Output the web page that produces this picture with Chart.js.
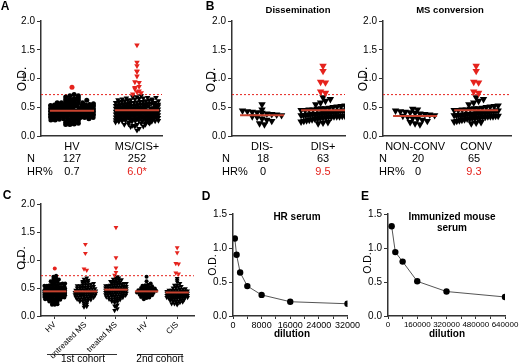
<!DOCTYPE html>
<html>
<head>
<meta charset="utf-8">
<script src="https://cdn.jsdelivr.net/npm/chart.js@4.4.1/dist/chart.umd.min.js"></script>
<style>
  body { margin: 0; width: 520px; height: 363px; position: relative; overflow: hidden; background: #fff; font-family: "Liberation Sans", Arial, sans-serif; color: #000 }
  canvas { position: absolute }
  .t { position: absolute; white-space: nowrap; line-height: 1 }
  .rule { position: absolute; height: 0; border-top: 1px solid #333 }
</style>
</head>
<body>
<canvas id="chartA" width="175" height="152" style="left:0;top:0"></canvas>
<canvas id="chartB1" width="165" height="152" style="left:190px;top:0"></canvas>
<canvas id="chartB2" width="170" height="152" style="left:350px;top:0"></canvas>
<canvas id="chartC" width="200" height="173" style="left:0;top:190px"></canvas>
<canvas id="chartD" width="166" height="150" style="left:195px;top:200px"></canvas>
<canvas id="chartE" width="165" height="150" style="left:355px;top:200px"></canvas>
<div class="rule" style="left:47px;top:354px;width:70px"></div>
<div class="rule" style="left:137px;top:354px;width:46px"></div>
<script>
const cutoff = 0.72

// 1st cohort / 2nd cohort groups (panel C), pooled again for panel A
const hvCohort1 = [0.85, 0.20, 0.20, 0.21, 0.22, 0.24, 0.25, 0.26, 0.27, 0.28, 0.28, 0.29, 0.30, 0.30, 0.31, 0.31,
  0.32, 0.32, 0.33, 0.33, 0.34, 0.34, 0.35, 0.35, 0.36, 0.36, 0.36, 0.37, 0.37, 0.38, 0.38, 0.38, 0.39, 0.39,
  0.40, 0.40, 0.40, 0.41, 0.41, 0.42, 0.42, 0.42, 0.43, 0.43, 0.44, 0.44, 0.44, 0.45, 0.45, 0.46, 0.46, 0.46,
  0.47, 0.47, 0.48, 0.48, 0.48, 0.49, 0.49, 0.50, 0.50, 0.50, 0.51, 0.51, 0.52, 0.52, 0.53, 0.54, 0.54, 0.55,
  0.55, 0.56, 0.56, 0.57, 0.58, 0.58, 0.59, 0.60, 0.61, 0.62, 0.63, 0.64, 0.65, 0.66, 0.68, 0.70, 0.72]
const untreatedMS = [1.28, 1.12, 0.84, 0.82, 0.16, 0.17, 0.20, 0.21, 0.24, 0.25, 0.26, 0.27, 0.28, 0.28, 0.29,
  0.30, 0.30, 0.31, 0.32, 0.32, 0.33, 0.33, 0.34, 0.34, 0.35, 0.35, 0.36, 0.36, 0.37, 0.37, 0.38, 0.38, 0.38,
  0.39, 0.39, 0.40, 0.40, 0.40, 0.41, 0.41, 0.42, 0.42, 0.42, 0.43, 0.43, 0.44, 0.44, 0.44, 0.45, 0.45, 0.46,
  0.46, 0.47, 0.47, 0.48, 0.48, 0.49, 0.49, 0.50, 0.50, 0.51, 0.51, 0.52, 0.52, 0.53, 0.54, 0.54, 0.55, 0.56,
  0.56, 0.57, 0.58, 0.59, 0.60, 0.61, 0.62, 0.63, 0.64, 0.66, 0.68]
const treatedMS = [1.58, 1.04, 0.86, 0.78, 0.73, 0.10, 0.13, 0.17, 0.18, 0.20, 0.24, 0.25, 0.26, 0.27, 0.28,
  0.29, 0.30, 0.30, 0.31, 0.32, 0.32, 0.33, 0.34, 0.34, 0.35, 0.35, 0.36, 0.36, 0.37, 0.37, 0.38, 0.38, 0.39,
  0.39, 0.40, 0.40, 0.40, 0.41, 0.41, 0.42, 0.42, 0.42, 0.43, 0.43, 0.44, 0.44, 0.44, 0.45, 0.45, 0.46, 0.46,
  0.46, 0.47, 0.47, 0.48, 0.48, 0.48, 0.49, 0.49, 0.50, 0.50, 0.50, 0.51, 0.51, 0.52, 0.52, 0.53, 0.53, 0.54,
  0.54, 0.55, 0.55, 0.56, 0.56, 0.57, 0.57, 0.58, 0.58, 0.59, 0.60, 0.60, 0.61, 0.62, 0.62, 0.63, 0.64, 0.65,
  0.66, 0.67, 0.68, 0.70]
const hvCohort2 = [0.30, 0.32, 0.33, 0.34, 0.35, 0.36, 0.36, 0.37, 0.38, 0.38, 0.39, 0.40, 0.40, 0.41, 0.42,
  0.42, 0.43, 0.43, 0.44, 0.44, 0.45, 0.45, 0.46, 0.46, 0.47, 0.47, 0.48, 0.48, 0.49, 0.50, 0.50, 0.51, 0.52,
  0.53, 0.54, 0.55, 0.56, 0.58, 0.62, 0.70]

// CIS patients split by dissemination / MS conversion (panel B)
const disNeg = [0.55, 0.46, 0.44, 0.43, 0.42, 0.41, 0.40, 0.39, 0.38, 0.37, 0.36, 0.34, 0.33, 0.30, 0.28, 0.26, 0.22, 0.20]
const disPos = [1.22, 1.13, 0.94, 0.93, 0.77, 0.75, 0.22, 0.23, 0.24, 0.25, 0.26, 0.27, 0.28, 0.29, 0.30, 0.30,
  0.31, 0.32, 0.32, 0.33, 0.33, 0.34, 0.34, 0.34, 0.35, 0.35, 0.36, 0.36, 0.36, 0.37, 0.37, 0.38, 0.38, 0.38,
  0.39, 0.39, 0.40, 0.40, 0.41, 0.41, 0.42, 0.42, 0.43, 0.43, 0.44, 0.44, 0.45, 0.45, 0.46, 0.46, 0.47, 0.48,
  0.48, 0.49, 0.50, 0.51, 0.52, 0.53, 0.55, 0.58, 0.61, 0.64, 0.67]
const nonConv = [0.47, 0.46, 0.44, 0.43, 0.42, 0.41, 0.40, 0.39, 0.38, 0.37, 0.36, 0.35, 0.33, 0.31, 0.30, 0.28, 0.26, 0.24, 0.22, 0.20]
const conv = [1.22, 1.13, 0.94, 0.93, 0.77, 0.75, 0.22, 0.23, 0.24, 0.25, 0.26, 0.27, 0.28, 0.29, 0.30, 0.30,
  0.31, 0.31, 0.32, 0.32, 0.33, 0.33, 0.34, 0.34, 0.34, 0.35, 0.35, 0.36, 0.36, 0.36, 0.36, 0.37, 0.37, 0.38,
  0.38, 0.38, 0.39, 0.39, 0.40, 0.40, 0.41, 0.41, 0.42, 0.42, 0.43, 0.43, 0.44, 0.44, 0.45, 0.45, 0.46, 0.46,
  0.47, 0.48, 0.48, 0.49, 0.50, 0.51, 0.52, 0.53, 0.55, 0.58, 0.61, 0.64, 0.67]

const cis = disNeg.concat(disPos)
const hvAll = hvCohort1.concat(hvCohort2)
const msCisAll = untreatedMS.concat(treatedMS, cis)

const labelsA = ['HV', 'MS/CIS+']
const labelsB1 = ['DIS-', 'DIS+']
const labelsB2 = ['NON-CONV', 'CONV']
const labelsC = ['HV', 'untreated MS', 'treated MS', 'HV', 'CIS']
const meansA = [0.44, 0.45]
const meansB1 = [0.36, 0.45]
const meansB2 = [0.35, 0.45]
const meansC = [0.44, 0.44, 0.47, 0.44, 0.42]
const countsA = ['127', '252'], hrA = ['0.7', '6.0*']
const countsB1 = ['18', '63'], hrB1 = ['0', '9.5']
const countsB2 = ['20', '65'], hrB2 = ['0', '9.3']
const odTicks = [0, 0.5, 1, 1.5, 2]
const odTicksTitration = [0, 0.5, 1, 1.5]

// titration curves (panels D, E)
const dilutionHR = [500, 1000, 2000, 4000, 8000, 16000, 32000]
const odHR = [1.14, 0.90, 0.64, 0.44, 0.31, 0.21, 0.18]
const dilutionMouse = [20000, 40000, 80000, 160000, 320000, 640000]
const odMouse = [1.32, 0.94, 0.80, 0.51, 0.36, 0.28]
const dilTicksHR = [0, 4000, 8000, 12000, 16000, 20000, 24000, 28000, 32000]
const dilTicksMouse = [0, 80000, 160000, 240000, 320000, 400000, 480000, 560000, 640000]

const red = '#e5231d'
const meanRed = '#c8432f'
const axisColor = '#333'
Chart.defaults.font.family = '"Liberation Sans", Arial, sans-serif'
Chart.defaults.color = '#000'

// Prism-like column scatter: values in the same row are spread sideways round the column centre
function swarm(values, cx, binH, step, maxW) {
  const rows = {}
  values.forEach(v => {
    const k = Math.round(v / binH)
    if (!rows[k]) rows[k] = []
    rows[k].push(v)
  })
  const pts = []
  Object.values(rows).forEach(row => {
    const n = row.length
    const s = n > 1 ? Math.min(step, maxW / (n - 1)) : 0
    row.forEach((v, i) => pts.push({ x: cx + (i - (n - 1) / 2) * s, y: v }))
  })
  return pts
}

function yAxis(w, ticks, max) {
  return {
    min: 0, max,
    afterBuildTicks: s => { s.ticks = ticks.map(v => ({ value: v })) },
    afterFit: s => { s.width = w },
    border: { color: axisColor, width: 1.5 },
    grid: { drawOnChartArea: false, tickLength: 4, color: axisColor, lineWidth: 1 },
    ticks: { font: { size: 10 }, padding: 2, callback: v => v.toFixed(1) }
  }
}

function stripChart(id, o) {
  const datasets = []
  o.groups.forEach((values, i) => {
    const tri = o.shapes[i] == 'triangle'
    datasets.push({
      data: swarm(values, i + 1, o.binH, o.step, o.maxW),
      pointStyle: o.shapes[i],
      pointRotation: tri ? 180 : 0,
      pointRadius: tri ? o.triR : o.dotR,
      pointBorderWidth: 0,
      pointBackgroundColor: ctx => (ctx.raw && ctx.raw.y > cutoff ? red : '#000'),
      order: 1
    })
    datasets.push({
      data: [{ x: i + 1 - o.meanHalf, y: o.means[i] }, { x: i + 1 + o.meanHalf, y: o.means[i] }],
      showLine: true, borderColor: meanRed, borderWidth: 2, pointRadius: 0, order: 0
    })
  })
  // the cutoff line runs a little past the end of the axis, as in the figure
  datasets.push({
    data: [{ x: o.xMin, y: cutoff }, { x: o.cutEnd || o.xMax, y: cutoff }],
    showLine: true, borderColor: red, borderWidth: 1, borderDash: [2, 2], pointRadius: 0, order: 2
  })

  return new Chart(document.getElementById(id), {
    type: 'scatter',
    data: { datasets },
    options: {
      responsive: false, animation: false, events: [],
      layout: { autoPadding: false, padding: { top: o.padTop, right: o.padRight, left: 0, bottom: 0 } },
      plugins: { legend: { display: false }, tooltip: { enabled: false } },
      scales: {
        x: {
          type: 'linear', min: o.xMin, max: o.xMax,
          afterBuildTicks: s => { s.ticks = o.labels.map((_, i) => ({ value: i + 1 })) },
          afterFit: s => { s.height = o.xAxisH },
          border: { color: axisColor, width: 1.5 },
          grid: o.catTicks ? { drawOnChartArea: false, tickLength: 3, color: axisColor } : { display: false, drawTicks: false },
          ticks: {
            font: { size: o.catFont }, padding: o.catPad, autoSkip: false,
            maxRotation: o.rot, minRotation: o.rot,
            callback: v => o.labels[Math.round(v) - 1]
          }
        },
        y: yAxis(o.yAxisW, odTicks, 2)
      }
    }
  })
}

function titrationChart(id, o) {
  return new Chart(document.getElementById(id), {
    type: 'scatter',
    data: {
      datasets: [{
        data: o.dilution.map((d, i) => ({ x: d, y: o.od[i] })),
        showLine: true, borderColor: '#555', borderWidth: 1,
        pointRadius: 3.2, pointBackgroundColor: '#000', pointBorderWidth: 0
      }]
    },
    options: {
      responsive: false, animation: false, events: [],
      layout: { autoPadding: false, padding: { top: 14, right: o.padRight, left: 0, bottom: 0 } },
      plugins: { legend: { display: false }, tooltip: { enabled: false } },
      scales: {
        x: {
          type: 'linear', min: 0, max: o.xMax,
          afterBuildTicks: s => { s.ticks = o.ticks.map(v => ({ value: v })) },
          afterFit: s => { s.height = 34 },
          border: { color: axisColor, width: 1.5 },
          grid: { drawOnChartArea: false, tickLength: 3, color: axisColor },
          ticks: {
            font: { size: o.tickFont }, padding: 1, autoSkip: false, maxRotation: 0,
            callback: (v, i) => (i % 2 == 0 ? String(v) : '')
          }
        },
        y: yAxis(o.yAxisW, odTicksTitration, 1.5)
      }
    }
  })
}

stripChart('chartA', {
  groups: [hvAll, msCisAll], shapes: ['circle', 'triangle'], labels: labelsA, means: meansA,
  xMin: 0.523, xMax: 2.385, yAxisW: 41, padTop: 21, padRight: 13, xAxisH: 16,
  binH: 0.05, step: 0.065, maxW: 0.66, dotR: 2.5, triR: 3.2, meanHalf: 0.34,
  catFont: 11, catPad: 4, rot: 0, catTicks: false
})
stripChart('chartB1', {
  groups: [disNeg, disPos], shapes: ['triangle', 'triangle'], labels: labelsB1, means: meansB1,
  xMin: 0.508, xMax: 2.36, yAxisW: 42, padTop: 21, padRight: 10, xAxisH: 16,
  binH: 0.1, step: 0.08, maxW: 0.72, dotR: 3, triR: 4.3, meanHalf: 0.36,
  catFont: 11, catPad: 4, rot: 0, catTicks: false
})
stripChart('chartB2', {
  groups: [nonConv, conv], shapes: ['triangle', 'triangle'], labels: labelsB2, means: meansB2,
  xMin: 0.475, xMax: 2.57, yAxisW: 33, padTop: 21, padRight: 9, xAxisH: 16,
  binH: 0.1, step: 0.08, maxW: 0.72, dotR: 3, triR: 4.3, meanHalf: 0.36,
  catFont: 11, catPad: 4, rot: 0, catTicks: false
})
stripChart('chartC', {
  groups: [hvCohort1, untreatedMS, treatedMS, hvCohort2, cis],
  shapes: ['circle', 'triangle', 'triangle', 'circle', 'triangle'], labels: labelsC, means: meansC,
  xMin: 0.55, xMax: 5.55, yAxisW: 41, padTop: 14, padRight: 6, xAxisH: 47,
  binH: 0.04, step: 0.09, maxW: 0.68, dotR: 2, triR: 2.8, meanHalf: 0.38,
  catFont: 8, catPad: 1, rot: 45, catTicks: true
})
titrationChart('chartD', { dilution: dilutionHR, od: odHR, xMax: 32000, ticks: dilTicksHR, yAxisW: 38, padRight: 10, tickFont: 9 })
titrationChart('chartE', { dilution: dilutionMouse, od: odMouse, xMax: 640000, ticks: dilTicksMouse, yAxisW: 33, padRight: 15, tickFont: 8 })

// annotations outside the plot areas
function text(str, x, y, css, anchor) {
  const el = document.createElement('div')
  el.className = 't'
  el.textContent = str
  el.style.cssText += css || ''
  el.style.left = x + 'px'
  el.style.top = y + 'px'
  el.style.transform = anchor || 'translate(-50%,-50%)'
  document.body.appendChild(el)
}

const bold12 = 'font-size:12px;font-weight:bold;'
text('A', 5, 6, bold12)
text('B', 210, 6, bold12)
text('C', 7, 195, bold12)
text('D', 206, 196, bold12)
text('E', 365, 196, bold12)

text('Dissemination', 298, 10, 'font-size:9.5px;font-weight:bold;')
text('MS conversion', 450, 10, 'font-size:9.5px;font-weight:bold;')
text('HR serum', 297, 217, 'font-size:10px;font-weight:bold;')
text('Immunized mouse', 452, 217, 'font-size:10px;font-weight:bold;')
text('serum', 452, 228, 'font-size:10px;font-weight:bold;')
text('dilution', 292, 334, 'font-size:10px;font-weight:bold;')
text('dilution', 447, 334, 'font-size:10px;font-weight:bold;')

const rot = 'translate(-50%,-50%) rotate(-90deg)'
text('O.D.', 22, 79, 'font-size:12px;', rot)
text('O.D.', 211, 80, 'font-size:12px;', rot)
text('O.D.', 363, 79, 'font-size:12px;', rot)
text('O.D.', 22, 258, 'font-size:11.5px;', rot)
text('O.D.', 212, 265, 'font-size:10.5px;', rot)
text('O.D.', 367, 263, 'font-size:10.5px;', rot)

function tableRows(left, centers, counts, hr) {
  const left50 = 'translate(0,-50%)'
  text('N', left, 158, 'font-size:11px;', left50)
  text('HR%', left, 171, 'font-size:11px;', left50)
  centers.forEach((cx, i) => {
    text(counts[i], cx, 158, 'font-size:11px;')
    text(hr[i], cx, 171, 'font-size:11px;' + (i == 1 ? 'color:' + red + ';' : ''))
  })
}
tableRows(27, [72, 137], countsA, hrA)
tableRows(222, [263, 323], countsB1, hrB1)
tableRows(379, [418, 474], countsB2, hrB2)

text('1st cohort', 83, 359, 'font-size:10px;')
text('2nd cohort', 160, 359, 'font-size:10px;')
</script>
</body>
</html>
